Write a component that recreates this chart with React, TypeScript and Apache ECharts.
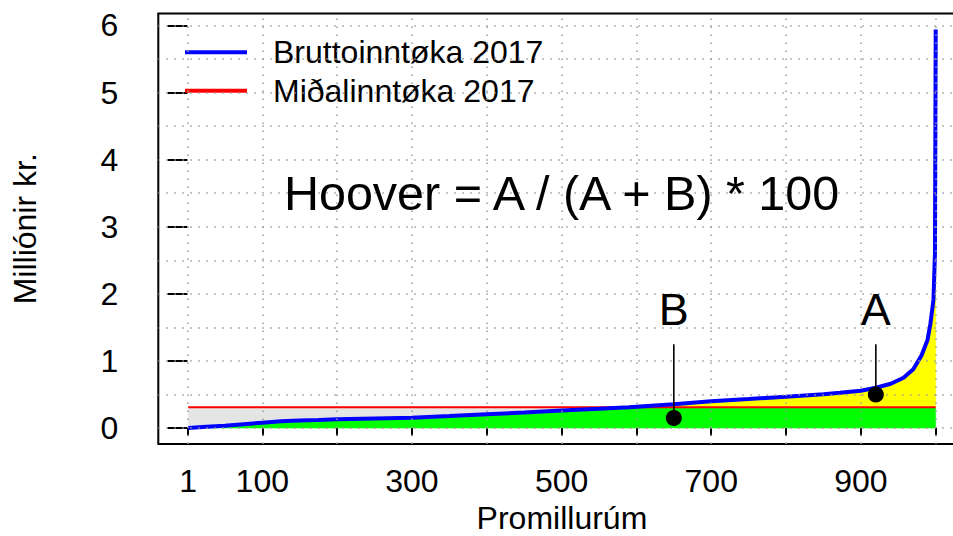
import React, { useEffect, useRef } from "react";
import * as echarts from "echarts";

// ---- data ----
const permille = [1, 25, 50, 75, 100, 125, 150, 175, 200, 250, 300, 350, 400, 450, 500, 550, 590, 600, 650, 700, 750, 800, 850, 872, 900, 920, 940, 957, 970, 981, 989, 993, 997, 999, 1000];
const grossIncome = [0.0, 0.018, 0.035, 0.058, 0.08, 0.1, 0.113, 0.12, 0.13, 0.142, 0.153, 0.178, 0.205, 0.232, 0.26, 0.287, 0.31, 0.318, 0.355, 0.4, 0.432, 0.467, 0.505, 0.527, 0.557, 0.6, 0.66, 0.75, 0.875, 1.08, 1.31, 1.56, 1.91, 2.6, 5.94];
const medianIncome = 0.31;
const medianRange = [1, 1000];

const seriesNames = ["Bruttoinntøka 2017", "Miðalinntøka 2017"];

const markerLabels = ["B", "A"];
const markerX = [650, 920];
const markerY = [0.15, 0.5];
const stemTop = 1.25;
const markerLabelY = 1.77;

const formulaText = "Hoover = A / (A + B) * 100";
const formulaX = 500;
const formulaY = 3.5;

const xTicks = [1, 100, 200, 300, 400, 500, 600, 700, 800, 900, 1000];
const xLabels = [1, 100, 300, 500, 700, 900];
const yTicks = [0, 1, 2, 3, 4, 5, 6];
const gridX = [1, 100, 200, 300, 400, 500, 600, 700, 800, 900, 1000];
const gridY = [0, 0.5, 1, 1.5, 2, 2.5, 3, 3.5, 4, 4.5, 5, 5.5, 6];

const xTitle = "Promillurúm";
const yTitle = "Milliónir kr.";

const FONT = "'Liberation Sans', Arial, Helvetica, sans-serif";
const BASE = 32;

function fillSeries(color: string, upper: number[], lower: number[]) {
  return {
    type: "custom",
    silent: true,
    z: 2,
    clip: true,
    data: [[500, 1]],
    renderItem: (_params: any, api: any) => {
      const pts: number[][] = [];
      for (let i = 0; i < permille.length; i++) pts.push(api.coord([permille[i], upper[i]]));
      for (let i = permille.length - 1; i >= 0; i--) pts.push(api.coord([permille[i], lower[i]]));
      return {
        type: "polygon",
        shape: { points: pts },
        style: { fill: color, stroke: color, lineWidth: 0.5 },
      };
    },
  };
}

export default function App() {
  const ref = useRef<HTMLDivElement>(null);
  useEffect(() => {
    if (!ref.current) return;
    const chart = echarts.init(ref.current, undefined, { renderer: "svg" });

    const zeros = permille.map(() => 0);
    const lowerCurve = grossIncome.map((v) => Math.min(v, medianIncome));
    const upperCurve = grossIncome.map((v) => Math.max(v, medianIncome));
    const medianLine = permille.map(() => medianIncome);
    const blue = permille.map((x, i) => [x, grossIncome[i]]);

    const stems = markerX.map((x, i) => ({
      type: "line",
      data: [
        [x, markerY[i]],
        [x, stemTop],
      ],
      symbol: "none",
      lineStyle: { color: "#000", width: 1.6 },
      z: 5,
      silent: true,
    }));

    const option: any = {
      animation: false,
      textStyle: { fontFamily: FONT },
      grid: {
        left: 158.3,
        top: 13.5,
        right: 0.4,
        bottom: 92,
        show: true,
        borderColor: "#000",
        borderWidth: 2,
        backgroundColor: "transparent",
        containLabel: false,
        outerBoundsMode: "none",
      },
      legend: {
        data: seriesNames,
        orient: "vertical",
        left: 185,
        top: 36.3,
        padding: 0,
        itemGap: 6.4,
        itemWidth: 62,
        itemHeight: 4,
        icon: "rect",
        selectedMode: false,
        textStyle: {
          fontSize: BASE,
          fontFamily: FONT,
          color: "#000",
          lineHeight: 32,
          padding: [0, 0, 0, 21],
        },
      },
      xAxis: {
        type: "value",
        min: -38.96,
        max: 1039.96,
        name: xTitle,
        nameLocation: "middle",
        nameGap: 58,
        nameTextStyle: { fontSize: BASE, fontFamily: FONT, color: "#000" },
        axisLine: { show: false },
        axisTick: {
          show: true,
          customValues: xTicks,
          length: 8,
          lineStyle: { color: "#000", width: 2 },
        },
        axisLabel: {
          show: true,
          customValues: xLabels,
          margin: 21,
          fontSize: BASE,
          fontFamily: FONT,
          color: "#000",
        },
        splitLine: { show: false },
      },
      yAxis: {
        type: "value",
        min: -0.2376,
        max: 6.1776,
        name: yTitle,
        nameLocation: "middle",
        nameGap: 117,
        nameTextStyle: { fontSize: BASE, fontFamily: FONT, color: "#000" },
        axisLine: { show: false },
        axisTick: {
          show: true,
          customValues: yTicks,
          length: 20,
          lineStyle: { color: "#000", width: 2 },
        },
        axisLabel: {
          show: true,
          customValues: yTicks,
          margin: 40,
          fontSize: BASE,
          fontFamily: FONT,
          color: "#000",
        },
        splitLine: { show: false },
      },
      series: [
        {
          type: "line",
          name: "grid",
          data: [],
          silent: true,
          z: 1,
          markLine: {
            silent: true,
            symbol: ["none", "none"],
            label: { show: false },
            lineStyle: { color: "#9a9a9a", type: [1.5, 6.5], width: 1.5 },
            data: [
              ...gridX.map((v) => ({ xAxis: v })),
              ...gridY.map((v) => ({ yAxis: v })),
            ],
          },
        },
        fillSeries("#00ff00", lowerCurve, zeros),
        fillSeries("#e5e5e5", medianLine, lowerCurve),
        fillSeries("#ffff00", upperCurve, medianLine),
        {
          type: "line",
          name: seriesNames[1],
          data: medianRange.map((x) => [x, medianIncome]),
          symbol: "none",
          color: "#ff0000",
          lineStyle: { color: "#ff0000", width: 2 },
          z: 3,
        },
        {
          type: "line",
          name: seriesNames[0],
          data: blue,
          symbol: "none",
          color: "#0000ff",
          lineStyle: { color: "#0000ff", width: 4 },
          z: 4,
        },
        ...stems,
        {
          type: "scatter",
          name: "markers",
          data: markerX.map((x, i) => [x, markerY[i]]),
          symbol: "circle",
          symbolSize: 16,
          itemStyle: { color: "#000", opacity: 1 },
          z: 6,
          silent: true,
        },
        {
          type: "scatter",
          name: "texts",
          symbolSize: 0,
          silent: true,
          z: 7,
          itemStyle: { opacity: 1 },
          label: {
            show: true,
            position: "inside",
            formatter: "{b}",
            color: "#000",
            opacity: 1,
            fontFamily: FONT,
          },
          data: [
            { name: formulaText, value: [formulaX, formulaY], label: { fontSize: 48.5 } },
            ...markerLabels.map((t, i) => ({
              name: t,
              value: [markerX[i], markerLabelY],
              label: { fontSize: 45 },
            })),
          ],
        },
      ],
    };
    chart.setOption(option);
    return () => chart.dispose();
  }, []);
  return (
    <div style={{ position: "fixed", left: 0, top: 0, width: 953, height: 536, overflow: "hidden", background: "#fff" }}>
      <div ref={ref} style={{ width: 966, height: 536 }} />
    </div>
  );
}
